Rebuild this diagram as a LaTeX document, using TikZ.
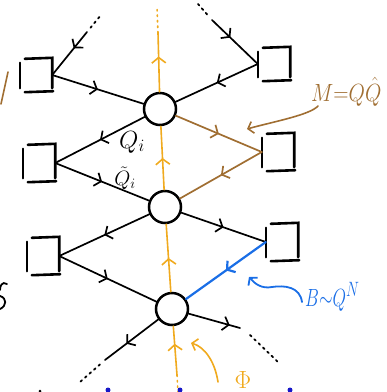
\documentclass[tikz,border=0pt]{standalone}
\usetikzlibrary{arrows.meta,decorations.markings,calc}
\definecolor{orl}{HTML}{F0AA1E}
\definecolor{brn}{HTML}{A06E32}
\definecolor{blu}{HTML}{1A6EE6}
\definecolor{dblu}{HTML}{1818C8}
\tikzset{
  gauge/.style={circle, draw, line width=2.5pt, minimum size=32pt, fill=white, inner sep=0pt},
  flav/.style={minimum width=32pt, minimum height=34pt, inner sep=0pt},
  sq/.style={line width=2.6pt, line cap=round},
  leg/.style={line width=1.7pt, line cap=round},
  flow/.style={line width=1.6pt, orl, line cap=round},
  tip/.style={-{Straight Barb[length=5pt,width=12pt]}},
  mid/.style={postaction={decorate}, decoration={markings,
      mark=at position #1 with {\arrow{Straight Barb[length=5.5pt,width=14pt]}}}},
  mid/.default=0.5,
  dots/.style={line width=1.8pt, dash pattern=on 2pt off 4pt, line cap=round},
  lab/.style={inner sep=0pt}
}
\begin{document}
\begin{tikzpicture}[x=1pt,y=-1pt]
  \useasboundingbox (0,0) rectangle (387,392);
  \clip (0,0) rectangle (387,392);

  % gauge nodes
  \node[gauge] (g1) at (160,109) {};
  \node[gauge] (g2) at (165,207) {};
  \node[gauge] (g3) at (172,309) {};

  % flavour boxes
  \node[flav] (l1) at (36,75) {};
  \node[flav, minimum height=38pt] (l2) at (39,163) {};
  \node[flav, minimum height=38pt] (l3) at (43,256) {};
  \node[flav] (r1) at (274,64) {};
  \node[flav, minimum height=38pt] (r2) at (278,152) {};
  \node[flav, minimum height=38pt] (r3) at (282,242) {};
  \foreach \n in {l1,l2,l3,r1,r2,r3}{
    \draw[sq] ($(\n.north west)+(0,5)$) -- ($(\n.south west)+(0,-4)$);
    \draw[sq] ($(\n.north west)+(5,1)$) -- (\n.north east) -- ($(\n.south east)+(0,-4)$);
    \draw[sq] ($(\n.south west)+(5,0)$) -- ($(\n.south east)+(1,-1)$);
  }

  % loose ends
  \coordinate (tl) at (87,32);  \coordinate (tlx) at (101,15);
  \coordinate (tr) at (212,20); \coordinate (trx) at (198,4);
  \coordinate (bl) at (105,360); \coordinate (blx) at (80,382);
  \coordinate (br) at (240,328); \coordinate (brx0) at (250,335); \coordinate (brx) at (278,362);
  \coordinate (ot) at (158,33); \coordinate (otx) at (157,8);
  \coordinate (ob) at (177,375); \coordinate (obx) at (178,394);

  % flow line
  \draw[flow, dash pattern=on 1.5pt off 4pt] (ot) -- (otx);
  \draw[flow, dash pattern=on 1.5pt off 4pt] (ob) -- (obx);
  \draw[flow, mid=0.6] (g1) -- (ot);
  \draw[flow, mid] (g2) -- (g1);
  \draw[flow, mid] (g3) -- (g2);
  \draw[flow, mid=0.64] (ob) -- (g3);

  % left legs
  \draw[dots] ($(tl)!0.25!(tlx)$) -- (tlx);
  \draw[leg, mid=0.38] (tl) -- (l1.east);
  \draw[leg, mid] (l1.east) -- (g1);
  \draw[leg, mid] (g1) -- (l2.east);
  \draw[leg, mid] (l2.east) -- (g2);
  \draw[leg, mid] (g2) -- (l3.east);
  \draw[leg, mid] (l3.east) -- (g3);
  \draw[leg, mid=0.6] (g3) -- (bl);
  \draw[dots] ($(bl)!0.2!(blx)$) -- (blx);

  % right legs
  \draw[dots] ($(tr)!0.35!(trx)$) -- (trx);
  \draw[leg, mid=0.4] (tr) -- (r1.west);
  \draw[leg, mid] (r1.west) -- (g1);
  \draw[leg, brn, mid] (g1) -- (r2.west);
  \draw[leg, brn, mid] (r2.west) -- (g2);
  \draw[leg, mid] (g2) -- (r3.west);
  \draw[leg, blu, line width=2.2pt, mid] (r3.west) -- (g3);
  \draw[leg, mid=0.8] (g3) -- (br);
  \draw[dots] (brx0) -- (brx);

  % labels
  \node[lab, font=\fontsize{24}{24}\selectfont] (qi) at (132,142) {$Q_i$};
  \node[lab, font=\fontsize{20}{20}\selectfont] (qti) at (125,178) {$\tilde Q_i$};
  \node[lab, brn, anchor=base west, font=\fontsize{26}{26}\selectfont] (mlab) at (311,101)
       {\scalebox{0.85}[1]{$M{=}Q\hat{Q}$}};
  \node[lab, blu, anchor=base west, font=\fontsize{30}{30}\selectfont] (blab) at (305,306)
       {\scalebox{0.7}[1]{$B{\sim}Q^N$}};
  \node[lab, orl, anchor=north, font=\fontsize{30}{30}\selectfont] (phi) at (243,371) {$\Phi$};

  % pointers to the labelled lines
  \coordinate (mp) at (318,106); \coordinate (mq) at (247,129);
  \draw[brn, line width=1.6pt, line cap=round, tip] (mp) .. controls (310,115) and (272,122) .. (mq);
  \coordinate (bp) at (302,302); \coordinate (bq) at (249,277);
  \draw[blu, line width=1.8pt, line cap=round, tip] (bp) .. controls (300,287) and (285,285) .. (272,287)
        .. controls (262,289) and (255,284) .. (bq);
  \coordinate (pp) at (218,382); \coordinate (pq) at (191,343);
  \draw[orl, line width=1.6pt, line cap=round, tip] (pp) .. controls (215,362) and (205,347) .. (pq);

  % text running in from the edges
  \draw[brn, line width=1.6pt, line cap=round] (8,72) -- (1,104);
  \draw[line width=1.8pt, line cap=round] (7,284) .. controls (2,281) and (0,286) .. (0,290);
  \draw[line width=1.8pt, line cap=round] (0,296) .. controls (7,298) and (7,306) .. (0,309);
  \fill[dblu] (108,390) circle (2.5);
  \fill[dblu] (180,390) circle (2.5);
  \fill[dblu] (290,390) circle (2.5);
  \fill (40,391) circle (1.5);
\end{tikzpicture}
\end{document}
